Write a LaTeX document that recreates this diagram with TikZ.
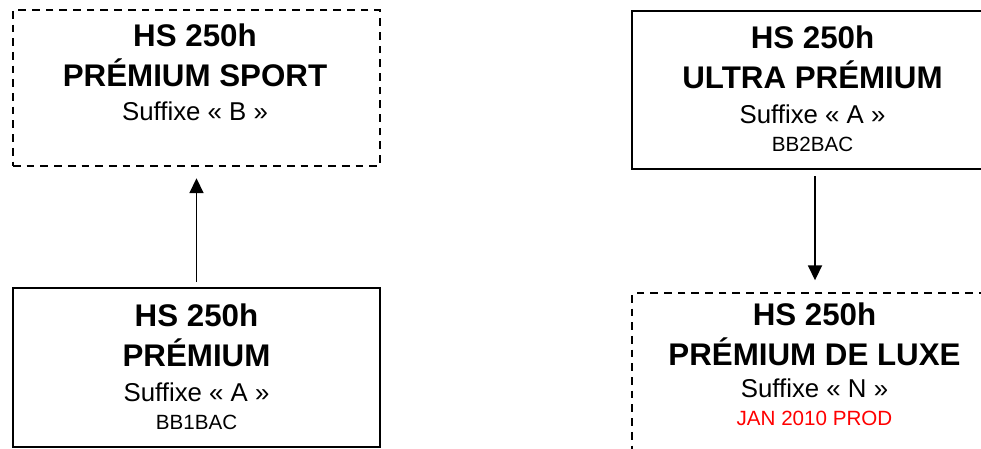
\documentclass[tikz,border=0pt]{standalone}
\usepackage{fontspec}
\setmainfont{Liberation Sans}
\usetikzlibrary{arrows.meta}
\begin{document}
\begin{tikzpicture}[x=1pt,y=-1pt,
  solidbox/.style={draw=black, line width=1.8pt, rectangle, inner sep=0pt, outer sep=0pt},
  dashbox/.style={draw=black, line width=1.8pt, dash pattern=on 7.7pt off 6pt, rectangle, inner sep=0pt, outer sep=0pt},
  ttl/.style={anchor=base, inner sep=0pt, font=\fontsize{31.3}{36}\selectfont\bfseries},
  subt/.style={anchor=base, inner sep=0pt, font=\fontsize{25.8}{30}\selectfont},
  smallt/.style={anchor=base, inner sep=0pt, font=\fontsize{20.6}{24}\selectfont},
  conn/.style={line width=1.8pt, -{Triangle[length=15pt,width=14pt]}}
]
\clip (0,0) rectangle (981,448);
\fill[white] (0,0) rectangle (981,448);
% boxes
\node[dashbox, minimum width=367pt, minimum height=155.7pt] (tl) at (196.5,87.85) {};
\node[solidbox, minimum width=367pt, minimum height=159pt] (bl) at (196.5,367.5) {};
\node[solidbox, minimum width=366pt, minimum height=158pt] (tr) at (815,90) {};
\node[dashbox, minimum width=365pt, minimum height=159pt] (br) at (814.5,372.8) {};
% texts top left
\node[ttl] (tl1) at (195,46.7) {HS 250h};
\node[ttl] (tl2) at (195,86) {PRÉMIUM SPORT};
\node[subt] (tl3) at (195,120.7) {Suffixe « B »};
% texts bottom left
\node[ttl] (bl1) at (196.5,326.7) {HS 250h};
\node[ttl] (bl2) at (196.5,366) {PRÉMIUM};
\node[subt] (bl3) at (196.5,401.7) {Suffixe « A »};
\node[smallt] (bl4) at (196.5,429.3) {BB1BAC};
% texts top right
\node[ttl] (tr1) at (812.5,48) {HS 250h};
\node[ttl] (tr2) at (812.5,88) {ULTRA PRÉMIUM};
\node[subt] (tr3) at (812.5,123.5) {Suffixe « A »};
\node[smallt] (tr4) at (812.5,151) {BB2BAC};
% texts bottom right
\node[ttl] (br1) at (814.5,325) {HS 250h};
\node[ttl] (br2) at (814.5,365) {PRÉMIUM DE LUXE};
\node[subt] (br3) at (814.5,397.3) {Suffixe « N »};
\node[smallt, text=red] (br4) at (814.5,425) {JAN 2010 PROD};
% connectors
\draw[conn, shorten <=6pt, shorten >=12.5pt] (bl.north) -- (tl.south);
\draw[conn, shorten <=7pt, shorten >=13pt] (tr.south) -- (tr.south |- br.north);
\end{tikzpicture}
\end{document}
